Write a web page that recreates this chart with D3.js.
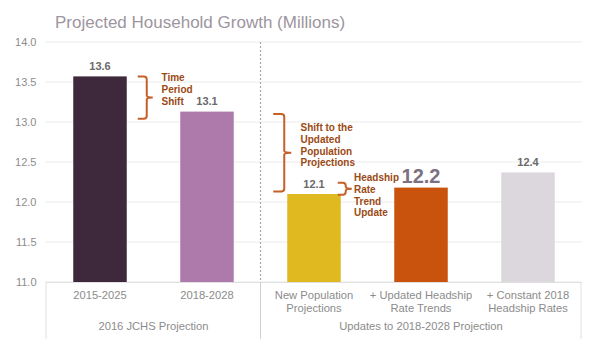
<!DOCTYPE html>
<html><head><meta charset="utf-8">
<script src="https://cdn.jsdelivr.net/npm/d3@7"></script>
<style>body{margin:0;background:#fff;}svg{display:block;font-family:Arial,"Liberation Sans",sans-serif;}</style>
</head><body><svg id="c" width="600" height="339"></svg>
<script>
const categories = ["2015-2025", "2018-2028", "New Population|Projections", "+ Updated Headship|Rate Trends", "+ Constant 2018|Headship Rates"];
const values = [13.57, 13.13, 12.10, 12.18, 12.37];
const valueLabels = ["13.6", "13.1", "12.1", "12.2", "12.4"];
const colors = ["#3e283b", "#ae7aab", "#e0b920", "#c9520c", "#dcd7dd"];
const groups = [{name:"2016 JCHS Projection", from:0, to:1}, {name:"Updates to 2018-2028 Projection", from:2, to:4}];
const yTicks = [11.0, 11.5, 12.0, 12.5, 13.0, 13.5, 14.0];
const annotations = [
  {lines:["Time","Period","Shift"], top:13.57, bottom:13.04},
  {lines:["Shift to the","Updated","Population","Projections"], top:13.10, bottom:12.13},
  {lines:["Headship","Rate","Trend","Update"], top:12.24, bottom:12.09}
];

const svg = d3.select("#c");
const x = d3.scaleBand().domain(categories).range([46.5, 581.5]).paddingInner(0.5).paddingOuter(0.25);
const y = d3.scaleLinear().domain([11, 14]).range([282, 42]);

svg.append("text").attr("x", 55).attr("y", 28).attr("font-size", 17)
  .attr("fill", "#9d95a0").text("Projected Household Growth (Millions)");

// gridlines
svg.append("g").selectAll("line").data(yTicks).join("line")
  .attr("x1", 45).attr("x2", 582).attr("y1", d => y(d)).attr("y2", d => y(d))
  .attr("stroke", "#ebebeb").attr("stroke-width", 1);

// y axis
const ya = svg.append("g").attr("transform", "translate(36.5,0)")
  .call(d3.axisLeft(y).tickValues(yTicks).tickFormat(d3.format(".1f")).tickSize(0).tickPadding(0));
ya.select(".domain").remove();
ya.selectAll("text").attr("font-size", 11).attr("fill", "#8c8c8c").attr("font-family", "Arial, Liberation Sans, sans-serif");

// divider dashed
const divX = (x(categories[1]) + x.bandwidth() + x(categories[2])) / 2;
svg.append("line").attr("x1", divX).attr("x2", divX).attr("y1", 42).attr("y2", 282)
  .attr("stroke", "#a8a8a8").attr("stroke-dasharray", "2,2").attr("stroke-width", 1.2);

// bars
svg.append("g").selectAll("rect").data(values).join("rect")
  .attr("x", (d, i) => x(categories[i])).attr("width", x.bandwidth())
  .attr("y", d => y(d)).attr("height", d => y(11) - y(d))
  .attr("fill", (d, i) => colors[i]);

// value labels
svg.append("g").selectAll("text").data(values).join("text")
  .attr("x", (d, i) => x(categories[i]) + x.bandwidth() / 2)
  .attr("y", (d, i) => y(d) - (i === 3 ? 5 : 6.5))
  .attr("text-anchor", "middle")
  .attr("font-size", (d, i) => i === 3 ? 20 : 11)
  .attr("font-weight", "bold")
  .attr("fill", (d, i) => i === 3 ? "#7d7082" : "#6a6a6a")
  .text((d, i) => valueLabels[i]);

// category axis box
const left = 46, right = 581;
svg.append("line").attr("x1", left).attr("x2", right).attr("y1", 282.5).attr("y2", 282.5).attr("stroke", "#e0e0e0");
[left, divX, right].forEach(xx => svg.append("line").attr("x1", xx).attr("x2", xx).attr("y1", 282).attr("y2", 339)
  .attr("stroke", xx === divX ? "#cfcfcf" : "#e0e0e0"));

svg.append("g").selectAll("text").data(categories).join("text")
  .attr("x", d => x(d) + x.bandwidth() / 2).attr("y", 299)
  .attr("text-anchor", "middle").attr("font-size", 11.2).attr("fill", "#8c8c8c")
  .each(function(d) {
    const parts = d.split("|");
    d3.select(this).selectAll("tspan").data(parts).join("tspan")
      .attr("x", x(d) + x.bandwidth() / 2).attr("dy", (p, j) => j === 0 ? 0 : 13.3).text(p => p);
  });

svg.append("g").selectAll("text").data(groups).join("text")
  .attr("x", g => (x(categories[g.from]) + x(categories[g.to]) + x.bandwidth()) / 2)
  .attr("y", 330).attr("text-anchor", "middle").attr("font-size", 11.2).attr("fill", "#8c8c8c")
  .text(g => g.name);

// brackets
function bracket(x0, w, nub, yt, yb) {
  const ym = (yt + yb) / 2, r = 3, xv = x0 + w;
  return `M${x0},${yt} L${xv - r},${yt} Q${xv},${yt} ${xv},${yt + r} L${xv},${ym - 2} Q${xv},${ym} ${xv + nub},${ym} Q${xv},${ym} ${xv},${ym + 2} L${xv},${yb - r} Q${xv},${yb} ${xv - r},${yb} L${x0},${yb}`;
}
const annX = [
  {bx: x(categories[0]) + x.bandwidth() + 11, w: 9, nub: 6, tx: 161.5, ty0: 81},
  {bx: x(categories[2]) - 14, w: 11, nub: 7, tx: 300.5, ty0: 131},
  {bx: x(categories[2]) + x.bandwidth() - 3, w: 8, nub: 6, tx: 354, ty0: 181}
];
annotations.forEach((a, i) => {
  const p = annX[i];
  svg.append("path").attr("d", bracket(p.bx, p.w, p.nub, y(a.top), y(a.bottom)))
    .attr("fill", "none").attr("stroke", "#c65f28").attr("stroke-width", 2);
  const t = svg.append("text").attr("x", p.tx).attr("y", p.ty0).attr("font-size", 10).attr("font-weight", "bold").attr("fill", "#9b4a14");
  t.selectAll("tspan").data(a.lines).join("tspan").attr("x", p.tx).attr("dy", (l, j) => j === 0 ? 0 : 11.8).text(l => l);
});
</script></body></html>
